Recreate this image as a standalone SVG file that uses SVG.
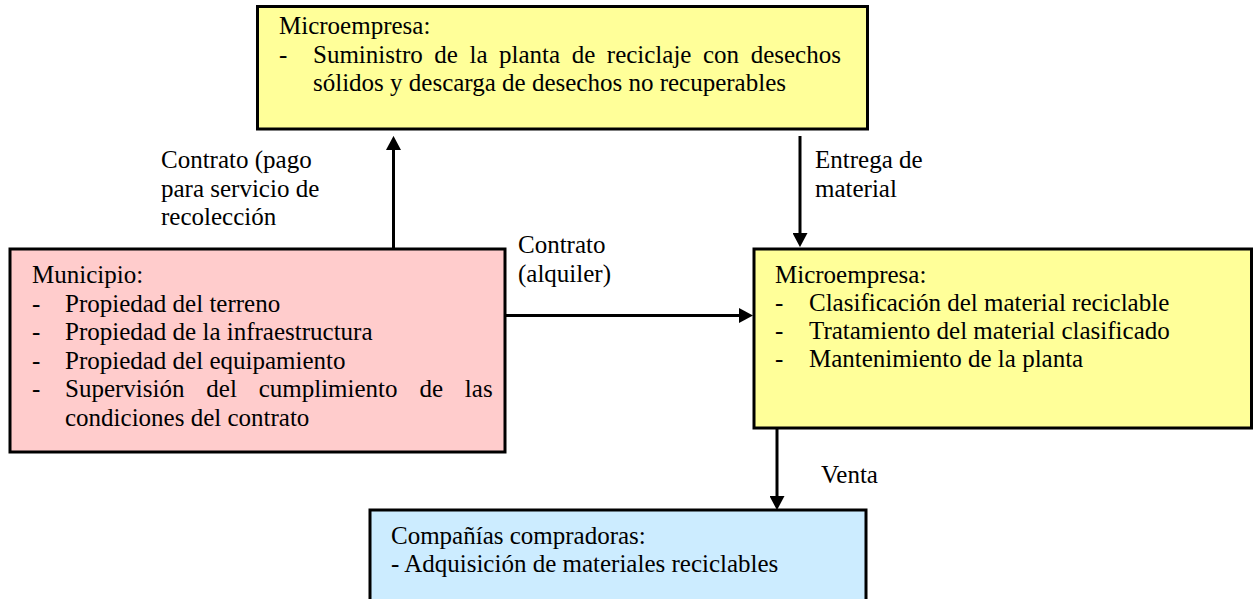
<svg xmlns="http://www.w3.org/2000/svg" width="1254" height="599" viewBox="0 0 1254 599">
<defs>
<style>
.box{stroke:#000;stroke-width:3}
.t{font-family:"Liberation Serif","Times New Roman",serif;font-size:25px;fill:#000}
.c{stroke:#000;stroke-width:3;fill:none;marker-end:url(#ah)}
</style>
<marker id="ah" markerWidth="4.7" markerHeight="5" refX="0" refY="2.5" orient="auto" markerUnits="strokeWidth">
<path d="M0,0 L4.7,2.5 L0,5 z" fill="#000"/>
</marker>
</defs>
<rect width="1254" height="599" fill="#fff"/>
<g id="connectors">
<path class="c" d="M393.5,249 V150"/>
<path class="c" d="M800,136 V233"/>
<path class="c" d="M505,315.5 H739"/>
<path class="c" d="M777,428 V496"/>
</g>
<g id="node-top">
<rect class="box" x="257.5" y="6.5" width="610" height="122.5" fill="#FFFF99"/>
<text class="t"><tspan x="279" y="34">Microempresa:</tspan><tspan x="279" y="62.5">-</tspan><tspan x="313" y="62.5" word-spacing="5.3">Suministro de la planta de reciclaje con desechos</tspan><tspan x="313" y="91">sólidos y descarga de desechos no recuperables</tspan></text>
</g>
<g id="node-municipio">
<rect class="box" x="10" y="249" width="495" height="203" fill="#FFCCCC"/>
<text class="t"><tspan x="32" y="283">Municipio:</tspan><tspan x="32" y="311.5">-</tspan><tspan x="65" y="311.5">Propiedad del terreno</tspan><tspan x="32" y="340">-</tspan><tspan x="65" y="340">Propiedad de la infraestructura</tspan><tspan x="32" y="368.5">-</tspan><tspan x="65" y="368.5">Propiedad del equipamiento</tspan><tspan x="32" y="397">-</tspan><tspan x="65" y="397" word-spacing="15.6">Supervisión del cumplimiento de las</tspan><tspan x="65" y="425.5">condiciones del contrato</tspan></text>
</g>
<g id="node-right">
<rect class="box" x="754" y="249" width="497.5" height="179" fill="#FFFF99"/>
<text class="t"><tspan x="775" y="283">Microempresa:</tspan><tspan x="775" y="311">-</tspan><tspan x="809" y="311">Clasificación del material reciclable</tspan><tspan x="775" y="339">-</tspan><tspan x="809" y="339">Tratamiento del material clasificado</tspan><tspan x="775" y="367">-</tspan><tspan x="809" y="367">Mantenimiento de la planta</tspan></text>
</g>
<g id="node-bottom">
<rect class="box" x="370" y="510" width="496" height="100" fill="#CCECFF"/>
<text class="t"><tspan x="391" y="544">Compañías compradoras:</tspan><tspan x="391" y="572">- Adquisición de materiales reciclables</tspan></text>
</g>
<g id="labels">
<text class="t"><tspan x="161" y="168">Contrato (pago</tspan><tspan x="161" y="197">para servicio de</tspan><tspan x="161" y="225">recolección</tspan></text>
<text class="t"><tspan x="815" y="168">Entrega de</tspan><tspan x="815" y="197">material</tspan></text>
<text class="t"><tspan x="518" y="253">Contrato</tspan><tspan x="518" y="282">(alquiler)</tspan></text>
<text class="t" x="821" y="483">Venta</text>
</g>
</svg>
